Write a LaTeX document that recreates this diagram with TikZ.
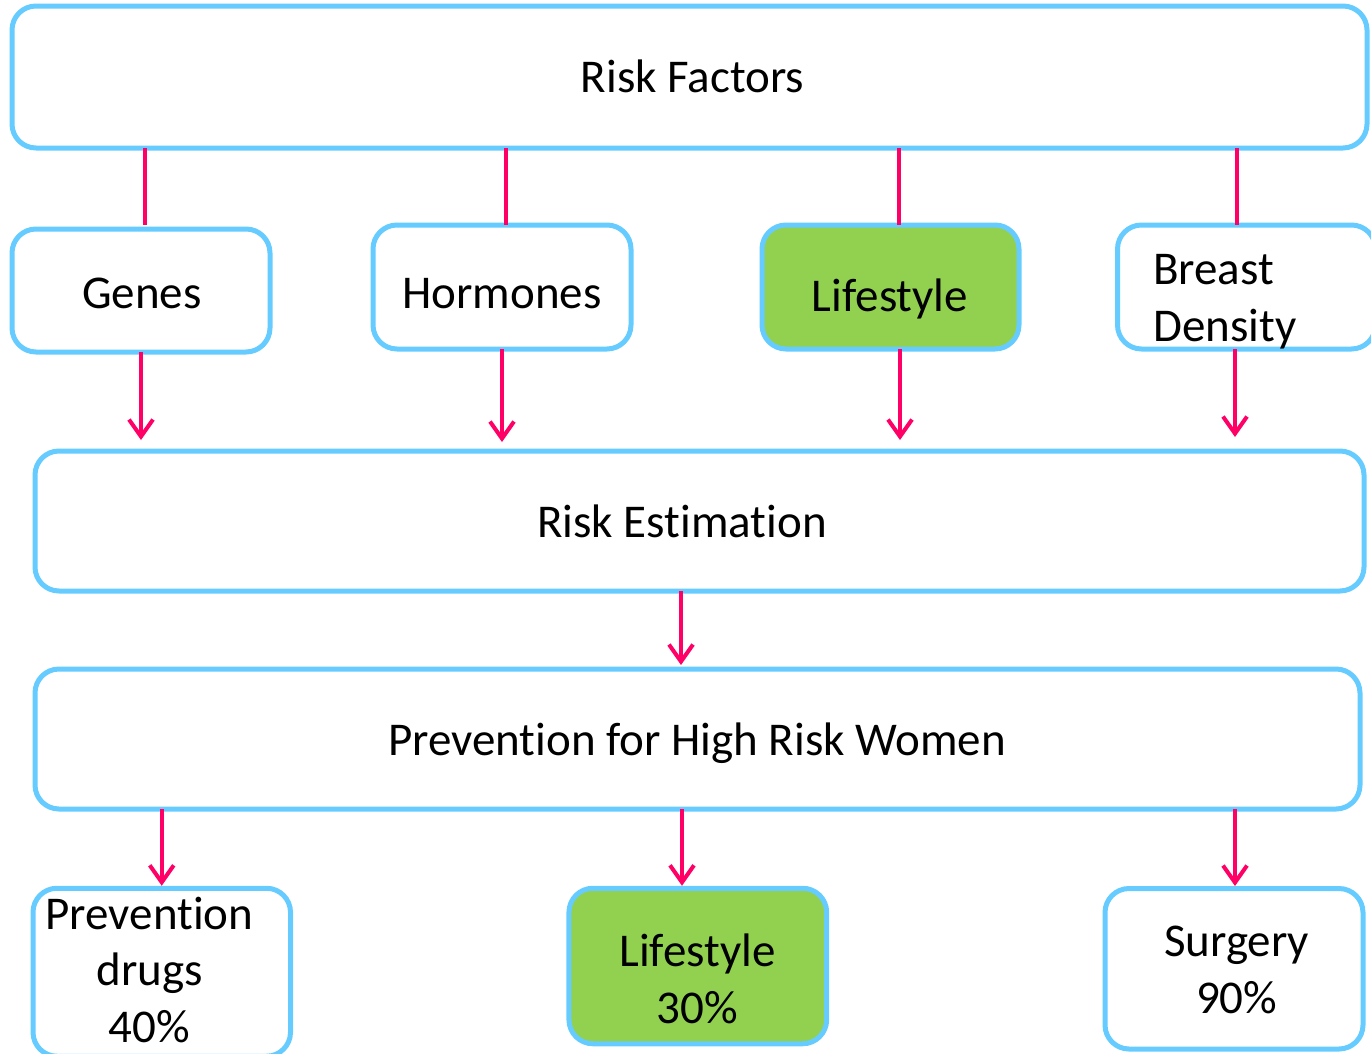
\documentclass[tikz,border=0pt]{standalone}
\usepackage{fontspec}
\setmainfont{Carlito}[Ligatures={NoCommon,NoContextual}]
\usetikzlibrary{arrows.meta}
\definecolor{boxblue}{RGB}{102,204,255}
\definecolor{boxgreen}{RGB}{146,208,80}
\definecolor{linkpink}{RGB}{255,0,102}
\newcommand{\nolig}{\kern0pt }
\begin{document}
\begin{tikzpicture}[x=1pt,y=-1pt,
  box/.style={draw=boxblue,line width=5pt,rounded corners=24pt,rectangle,inner sep=0pt,outer sep=0pt,fill=white},
  gbox/.style={box,fill=boxgreen},
  txt/.style={anchor=base,inner sep=0pt,font=\fontsize{47}{57}\selectfont},
  link/.style={draw=linkpink,line width=4pt},
  arr/.style={link,-{Straight Barb[length=17pt,width=24pt,line width=4pt]}}]
\useasboundingbox (0,0) rectangle (1371,1053);
\clip (0,0) rectangle (1371,1053);
% boxes
\node[box,minimum width=1355pt,minimum height=142pt] (top) at (689.5,77) {};
\node[box,minimum width=258pt,minimum height=123pt] (genes) at (141,290.5) {};
\node[box,minimum width=258pt,minimum height=124pt] (horm) at (502,287) {};
\node[gbox,minimum width=257pt,minimum height=124pt] (life) at (890.5,287) {};
\node[box,minimum width=258pt,minimum height=124pt] (breast) at (1246.5,287) {};
\node[box,minimum width=1329pt,minimum height=140pt] (est) at (699.5,521) {};
\node[box,minimum width=1325pt,minimum height=140pt] (prev) at (697.5,739) {};
\node[box,minimum width=257.5pt,minimum height=168pt] (drugs) at (161.75,972.25) {};
\node[gbox,minimum width=257.7pt,minimum height=155.5pt] (life2) at (697.8,966) {};
\node[box,minimum width=258pt,minimum height=160.5pt] (surg) at (1234,968.75) {};
% texts
\node[txt] (ttop) at (692.5,92.7) {Risk Factors};
\node[txt] (tgenes) at (142,308) {Genes};
\node[txt] (thorm) at (502,308) {Hormones};
\node[txt] (tlife) at (890,311) {Lifestyle};
\node[txt,anchor=base west] (tbreastA) at (1153,284) {Breast};
\node[txt,anchor=base west] (tbreastB) at (1153,341.7) {Density};
\node[txt] (test) at (682,537) {Risk Estimat\nolig ion};
\node[txt] (tprev) at (697,755) {Prevent\nolig ion for High Risk Women};
\node[txt] (tdrugsA) at (149.5,929) {Prevent\nolig ion};
\node[txt] (tdrugsB) at (149.5,985.5) {drugs};
\node[txt] (tdrugsC) at (149.5,1042.5) {40\%};
\node[txt] (tlife2A) at (697.5,966.7) {Lifestyle};
\node[txt] (tlife2B) at (697.5,1023) {30\%};
\node[txt] (tsurgA) at (1236.7,956.7) {Surgery};
\node[txt] (tsurgB) at (1236.7,1013.3) {90\%};
% connectors from Risk Factors
\draw[link] ([xshift=4pt]top.south -| genes.north) -- ([xshift=4pt,yshift=4pt]genes.north);
\draw[link] ([xshift=4pt]top.south -| horm.north) -- ([xshift=4pt]horm.north);
\draw[link] ([xshift=8.5pt]top.south -| life.north) -- ([xshift=8.5pt]life.north);
\draw[link] ([xshift=-9.5pt]top.south -| breast.north) -- ([xshift=-9.5pt]breast.north);
% arrows to Risk Estimation
\draw[arr,shorten >=11pt] (genes.south) -- (genes.south |- est.north);
\draw[arr,shorten >=9pt] (horm.south) -- (horm.south |- est.north);
\draw[arr,shorten >=11pt] ([xshift=9.5pt]life.south) -- ([xshift=9.5pt]life.south |- est.north);
\draw[arr,shorten >=14pt] ([xshift=-11.5pt]breast.south) -- ([xshift=-11.5pt]breast.south |- est.north);
% arrow to Prevention
\draw[arr,shorten >=4pt] ([xshift=-18.5pt]est.south) -- ([xshift=-18.5pt]est.south |- prev.north);
% arrows to bottom boxes
\draw[arr,shorten >=2.5pt] (drugs.north |- prev.south) -- (drugs.north);
\draw[arr,shorten >=2.5pt] ([xshift=-15.8pt]life2.north |- prev.south) -- ([xshift=-15.8pt]life2.north);
\draw[arr,shorten >=2.5pt] ([xshift=1pt]surg.north |- prev.south) -- ([xshift=1pt]surg.north);
\end{tikzpicture}
\end{document}
